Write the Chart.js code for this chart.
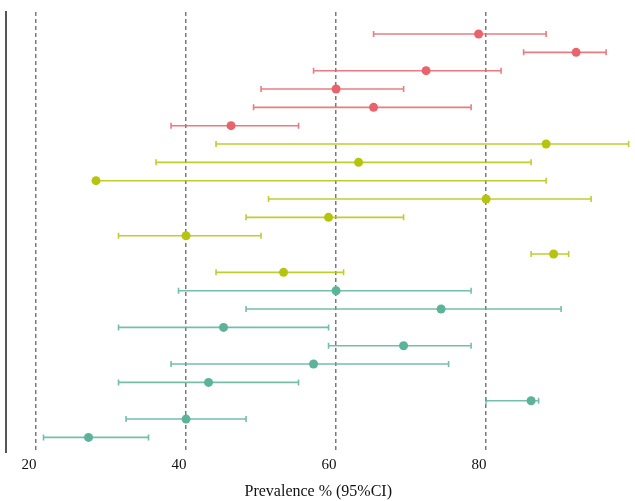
<!DOCTYPE html>
<html>
<head>
<meta charset="utf-8">
<script src="https://cdn.jsdelivr.net/npm/chart.js@4"></script>
<style>
  html, body { margin: 0; padding: 0; background: #fff; }
  #wrap { width: 635px; height: 501px; }
</style>
</head>
<body>
<div id="wrap"><canvas id="forest"></canvas></div>
<script>
// valores, de arriba a abajo
const grupos = ["A", "A", "A", "A", "A", "A",
  "B", "B", "B", "B", "B", "B", "B", "B",
  "C", "C", "C", "C", "C", "C", "C", "C", "C"];
const prevalencia = [79, 92, 72, 60, 65, 46,
  88, 63, 28, 80, 59, 40, 89, 53,
  60, 74, 45, 69, 57, 43, 86, 40, 27];
const inferior = [65, 85, 57, 50, 49, 38,
  44, 36, 28, 51, 48, 31, 86, 44,
  39, 48, 31, 59, 38, 31, 80, 32, 21];
const superior = [88, 96, 82, 69, 78, 55,
  99, 86, 88, 94, 69, 50, 91, 61,
  78, 90, 59, 78, 75, 55, 87, 48, 35];
const ticksX = [20, 40, 60, 80];

const colores = { A: "#e8646c", B: "#b5c40c", C: "#5db39a" };
const filas = prevalencia.map((_, i) => i + 1);

// barras de error (IC 95%) con sus topes
const barrasError = {
  id: "barrasError",
  beforeDatasetsDraw(chart) {
    const { ctx, scales: { x, y } } = chart;
    ctx.save();
    ctx.lineWidth = 1.6;
    ctx.globalAlpha = 0.85;
    filas.forEach((f, i) => {
      const py = y.getPixelForValue(f);
      const x1 = x.getPixelForValue(inferior[i]);
      const x2 = x.getPixelForValue(superior[i]);
      ctx.strokeStyle = colores[grupos[i]];
      ctx.beginPath();
      ctx.moveTo(x1, py); ctx.lineTo(x2, py);
      ctx.moveTo(x1, py - 3); ctx.lineTo(x1, py + 3);
      ctx.moveTo(x2, py - 3); ctx.lineTo(x2, py + 3);
      ctx.stroke();
    });
    ctx.restore();
  }
};

new Chart(document.getElementById("forest"), {
  type: "scatter",
  data: {
    datasets: [{
      data: filas.map((f, i) => ({ x: prevalencia[i], y: f })),
      backgroundColor: grupos.map((g) => colores[g]),
      borderColor: grupos.map((g) => colores[g]),
      pointRadius: 4.5,
      pointHoverRadius: 4.5,
      borderWidth: 0
    }]
  },
  plugins: [barrasError],
  options: {
    responsive: true,
    maintainAspectRatio: false,
    animation: false,
    layout: { padding: { left: 6, right: 0, top: 12, bottom: 0 } },
    plugins: { legend: { display: false }, tooltip: { enabled: false } },
    scales: {
      x: {
        type: "linear",
        min: 16,
        max: 99.25,
        afterBuildTicks: (axis) => { axis.ticks = ticksX.map((v) => ({ value: v })); },
        grid: {
          color: "#7a7a7a",
          lineWidth: 1.5,
          drawTicks: false
        },
        border: { display: false, dash: [4, 3] },
        ticks: {
          padding: 3,
          labelOffset: -7,
          color: "#111",
          font: { family: "Liberation Serif", size: 15 }
        },
        title: {
          display: true,
          text: "Prevalence % (95%CI)",
          color: "#111",
          padding: { top: 5, bottom: 0 },
          font: { family: "Liberation Serif", size: 16 }
        }
      },
      y: {
        type: "linear",
        reverse: true,
        min: -0.2,
        max: 23.84,
        grid: { display: false, drawTicks: false },
        border: { display: true, color: "#555", width: 2 },
        ticks: { display: false }
      }
    }
  }
});
</script>
</body>
</html>
